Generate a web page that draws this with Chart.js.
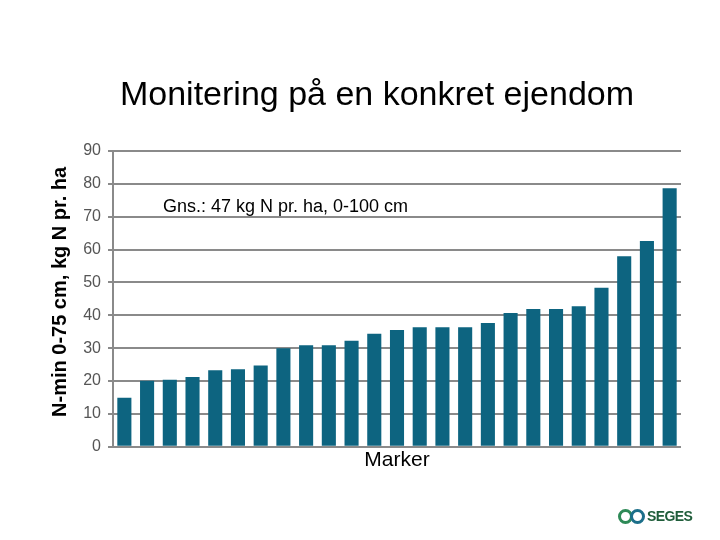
<!DOCTYPE html>
<html>
<head>
<meta charset="utf-8">
<script src="https://cdn.jsdelivr.net/npm/chart.js@4/dist/chart.umd.min.js"></script>
<style>
html,body{margin:0;padding:0;background:#fff;}
#wrap{position:relative;width:720px;height:540px;}
#logo{position:absolute;left:618px;top:507px;height:18px;display:flex;align-items:center;font-family:"Liberation Sans",Arial,sans-serif;}
.ring{width:15px;height:15px;border-radius:50%;border:3.5px solid #2e8a57;box-sizing:border-box;display:inline-block;}
.ring2{border-color:#1c6f8a;margin-left:-3px;}
#logo span.t{font-weight:bold;font-size:14px;color:#1f5d3a;margin-left:2px;letter-spacing:-0.6px;}
</style>
</head>
<body>
<div id="wrap">
<canvas id="c" width="720" height="540"></canvas>
<div id="logo"><span class="ring"></span><span class="ring ring2"></span><span class="t">SEGES</span></div>
</div>
<script>
const categories = ["1","2","3","4","5","6","7","8","9","10","11","12","13","14","15","16","17","18","19","20","21","22","23","24","25"];
const nminValues = [14.9,20.1,20.4,21.2,23.3,23.6,24.7,30.0,30.9,30.9,32.3,34.4,35.5,36.4,36.4,36.4,37.7,40.7,41.9,41.9,42.8,48.4,58.0,62.6,78.7];
const yTicks = [0,10,20,30,40,50,60,70,80,90];
const chartTitle = "Monitering på en konkret ejendom";
const yTitle = "N-min 0-75 cm, kg N pr. ha";
const xTitle = "Marker";
const note = "Gns.: 47 kg N pr. ha, 0-100 cm";

const FONT = '"Liberation Sans", Arial, sans-serif';

const textPlugin = {
  id: 'texts',
  afterDraw(chart) {
    const ctx = chart.ctx;
    const ys = chart.scales.y;
    const area = chart.chartArea;
    ctx.save();
    ctx.fillStyle = '#000';
    ctx.textBaseline = 'middle';
    // chart title
    ctx.textAlign = 'center';
    ctx.font = '34px ' + FONT;
    ctx.fillText(chartTitle, 377, 96);
    // y axis title
    ctx.save();
    ctx.translate(60, (area.top + area.bottom) / 2 - 7);
    ctx.rotate(-Math.PI / 2);
    ctx.font = 'bold 20px ' + FONT;
    ctx.fillText(yTitle, 0, 0);
    ctx.restore();
    // note
    ctx.textAlign = 'left';
    ctx.font = '18px ' + FONT;
    ctx.fillText(note, area.left + 50, ys.getPixelForValue(73));
    ctx.restore();
  }
};

new Chart(document.getElementById('c'), {
  type: 'bar',
  data: {
    labels: categories,
    datasets: [{
      data: nminValues,
      backgroundColor: '#0d6480',
      borderWidth: 0,
      barPercentage: 0.62,
      categoryPercentage: 1.0
    }]
  },
  options: {
    responsive: false,
    animation: false,
    layout: { padding: { left: 48, right: 39, top: 151, bottom: 67 } },
    plugins: {
      legend: { display: false },
      tooltip: { enabled: false },
      title: { display: false }
    },
    scales: {
      x: {
        ticks: { display: false },
        grid: { display: false, drawTicks: false },
        border: { display: false },
        title: {
          display: true,
          text: xTitle,
          color: '#000',
          font: { family: FONT, size: 21 },
          padding: { top: 1, bottom: 0 }
        }
      },
      y: {
        min: 0,
        max: 90,
        afterBuildTicks(scale) { scale.ticks = yTicks.map(v => ({ value: v })); },
        afterFit(scale) { scale.width = 65; },
        ticks: {
          color: '#555',
          font: { family: FONT, size: 16 },
          padding: 7
        },
        grid: { color: '#8a8a8a', lineWidth: 2, tickLength: 5 },
        border: { color: '#8a8a8a', width: 2 }
      }
    }
  },
  plugins: [textPlugin]
});
</script>
</body>
</html>
